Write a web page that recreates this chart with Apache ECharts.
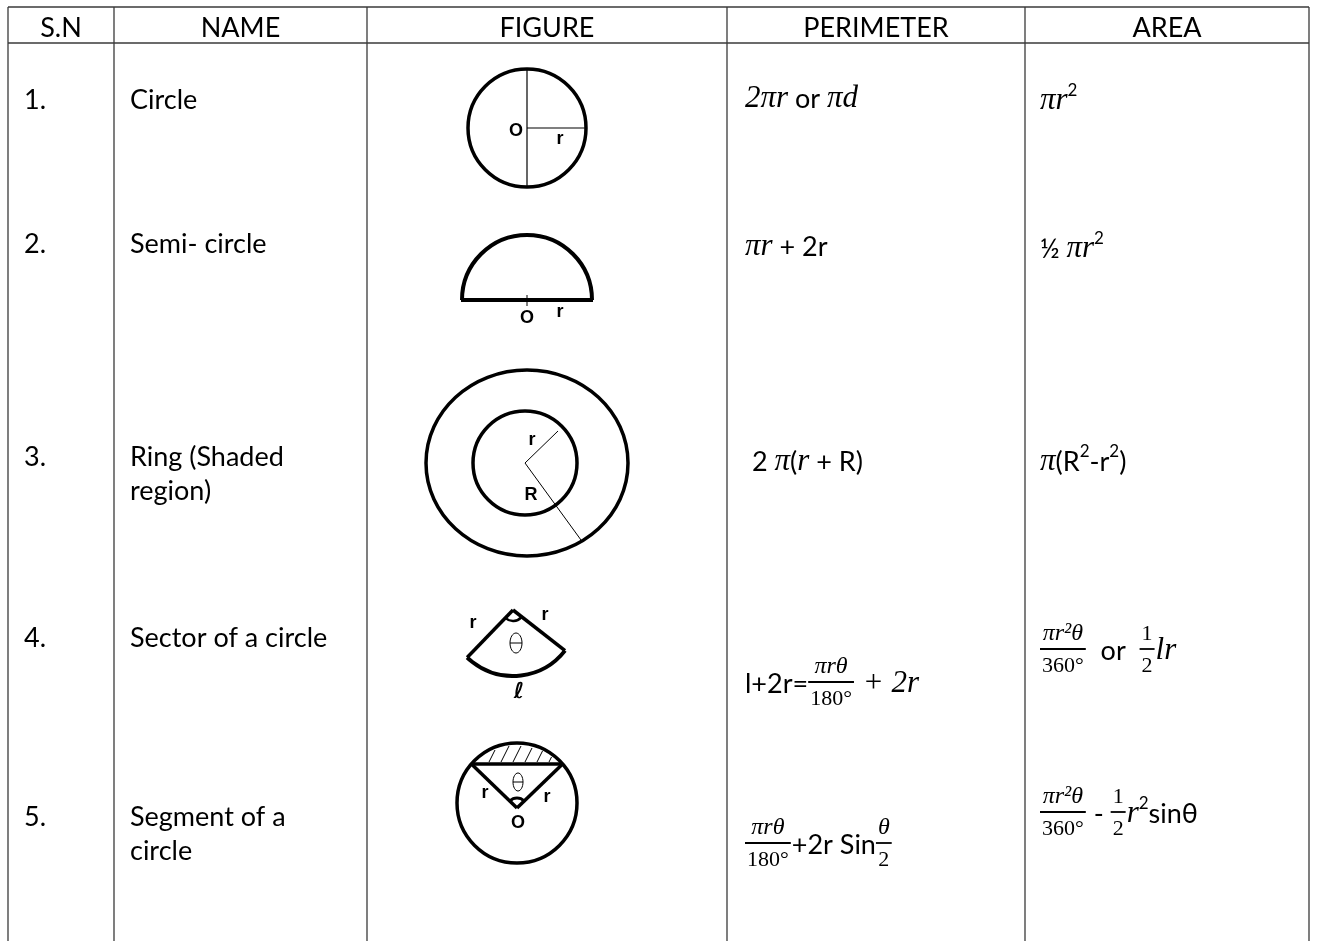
<!DOCTYPE html>
<html>
<head>
<meta charset="utf-8">
<title>Circle formulas</title>
<script src="https://cdn.jsdelivr.net/npm/echarts@6/dist/echarts.min.js"></script>
<style>
  html, body { margin: 0; padding: 0; background: #fff; }
  #main { width: 1317px; height: 941px; }
</style>
</head>
<body>
<div id="main"></div>
<script>
// table content
const headerLabels = ['S.N', 'NAME', 'FIGURE', 'PERIMETER', 'AREA'];
const serialNumbers = ['1.', '2.', '3.', '4.', '5.'];
const shapeNames = [
  ['Circle'],
  ['Semi- circle'],
  ['Ring (Shaded', 'region)'],
  ['Sector of a circle'],
  ['Segment of a', 'circle'],
];
// formula tokens: t = text, m = math italic, s = superscript, f = fraction [num, den]
const perimeterFormulas = [
  [['m', '2πr'], ['t', ' or '], ['m', 'πd']],
  [['m', 'πr'], ['t', ' + 2r']],
  [['t', ' 2 '], ['m', 'π'], ['t', '('], ['m', 'r'], ['t', ' + R)']],
  [['t', 'l+2r='], ['f', 'πrθ', '180°'], ['m', ' + 2r']],
  [['f', 'πrθ', '180°'], ['t', '+2r Sin'], ['f', 'θ', '2']],
];
const areaFormulas = [
  [['m', 'πr'], ['s', '2']],
  [['t', '½ '], ['m', 'πr'], ['s', '2']],
  [['m', 'π'], ['t', '(R'], ['s', '2'], ['t', '-r'], ['s', '2'], ['t', ')']],
  [['f', 'πr²θ', '360°'], ['t', '  or  '], ['f', '1', '2'], ['m', 'lr']],
  [['f', 'πr²θ', '360°'], ['t', ' - '], ['f', '1', '2'], ['m', 'r'], ['s', '2'], ['t', 'sinθ']],
];

// layout
const COLS = [8, 114, 367, 727, 1025, 1309];
const TOP = 7, HEAD_BOTTOM = 43, BOTTOM = 941;
const nameY = [100, 244, 457, 638, 817];
const LINE_GAP = 34;
const perimY = [99, 247, 462, 684, 845];
const areaY = [101, 249, 462, 651, 814];

const TEXT_FONT = 'Lato';
const MATH_FONT = 'Liberation Serif';
const LABEL_FONT = 'Liberation Sans';
const SIZE = 27;
const INK = '#000';
const GRID = '#3a3a3a';

const FONTS = {
  t: { family: TEXT_FONT, size: SIZE, style: 'normal', weight: 'normal' },
  m: { family: MATH_FONT, size: 31, style: 'italic', weight: 'normal' },
  s: { family: TEXT_FONT, size: 17, style: 'normal', weight: 'normal' },
  fi: { family: MATH_FONT, size: 24, style: 'italic', weight: 'normal' },
  fu: { family: MATH_FONT, size: 22, style: 'normal', weight: 'normal' },
};

const measureCtx = document.createElement('canvas').getContext('2d');
function measure(str, f) {
  measureCtx.font = `${f.style} ${f.weight} ${f.size}px "${f.family}"`;
  return measureCtx.measureText(str).width;
}

function text(str, x, y, f, align) {
  return {
    type: 'text', silent: true,
    style: {
      text: str, x: x, y: y, fill: INK,
      fontFamily: f.family, fontSize: f.size, fontStyle: f.style, fontWeight: f.weight,
      textAlign: align || 'left', textVerticalAlign: 'middle',
      align: align || 'left', verticalAlign: 'middle',
    },
  };
}
function seg(x1, y1, x2, y2, w, color) {
  return { type: 'line', silent: true, shape: { x1, y1, x2, y2 }, style: { stroke: color || INK, lineWidth: w } };
}
function circ(cx, cy, r, w) {
  return { type: 'circle', silent: true, shape: { cx, cy, r }, style: { stroke: INK, lineWidth: w, fill: 'none' } };
}
function ell(cx, cy, rx, ry, w) {
  return { type: 'ellipse', silent: true, shape: { cx, cy, rx, ry }, style: { stroke: INK, lineWidth: w, fill: 'none' } };
}
function arc(cx, cy, r, a0, a1, w) {
  return {
    type: 'arc', silent: true,
    shape: { cx, cy, r, startAngle: a0 * Math.PI / 180, endAngle: a1 * Math.PI / 180, clockwise: true },
    style: { stroke: INK, lineWidth: w, fill: 'none' },
  };
}
const LABEL = { family: LABEL_FONT, size: 18, style: 'normal', weight: 'bold' };
function label(str, x, y) { return text(str, x, y, LABEL, 'center'); }
function theta(cx, cy, rx, ry) {
  return [ell(cx, cy, rx, ry, 1), seg(cx - rx, cy, cx + rx, cy, 1)];
}

function layoutFormula(tokens, x0, yc, els) {
  let x = x0;
  tokens.forEach(([kind, a, b]) => {
    if (kind === 'f') {
      const nf = /[a-zπθ]/.test(a) ? FONTS.fi : FONTS.fu;
      const df = FONTS.fu;
      const w = Math.max(measure(a, nf), measure(b, df)) + 4;
      els.push(seg(x, yc - 2, x + w, yc - 2, 1.8));
      els.push(text(a, x + w / 2, yc - 17, nf, 'center'));
      els.push(text(b, x + w / 2, yc + 15, df, 'center'));
      x += w + 1;
    } else {
      const f = FONTS[kind];
      const y = kind === 's' ? yc - 10 : yc;
      els.push(text(a, x, y, f, 'left'));
      x += measure(a, f);
    }
  });
}

// figures
function circleFig() {
  return [circ(527, 128, 59, 3.5), seg(527, 69, 527, 187, 1.2), seg(527, 128, 586, 128, 1.2),
    label('O', 516, 131), label('r', 560, 139)];
}
function semiFig() {
  return [arc(527, 300, 65, 180, 360, 4), seg(461, 300, 593, 300, 4), seg(527, 295, 527, 306, 1),
    label('O', 527, 318), label('r', 560, 312)];
}
function ringFig() {
  return [ell(527, 463, 101, 93, 3.5), circ(525, 463, 52, 3.5),
    seg(525, 463, 558, 431, 1), seg(525, 463, 581, 540, 1),
    label('r', 532, 440), label('R', 531, 495)];
}
function sectorFig() {
  const ax = 513, ay = 610, r = 66, a0 = 38, a1 = 134;
  const p = (a) => [ax + r * Math.cos(a * Math.PI / 180), ay + r * Math.sin(a * Math.PI / 180)];
  const [rx, ry] = p(a0), [lx, ly] = p(a1);
  return [arc(ax, ay, r, a0, a1, 4), seg(ax, ay, lx, ly, 3.5), seg(ax, ay, rx, ry, 3.5),
    arc(ax, ay, 11, 42, 138, 2.5), ...theta(516, 643, 6, 10),
    label('r', 473, 623), label('r', 545, 615),
    text('ℓ', 519, 692, { family: 'DejaVu Sans', size: 22, style: 'oblique', weight: 'bold' }, 'center')];
}
function segmentFig() {
  const cx = 517, cy = 803, r = 60, chordY = 764, ax = 517, ay = 808;
  const dx = Math.sqrt(r * r - (cy - chordY) * (cy - chordY));
  const els = [circ(cx, cy, r, 3.5), seg(cx - dx, chordY, cx + dx, chordY, 3.5),
    seg(cx - dx, chordY, ax, ay, 3.5), seg(cx + dx, chordY, ax, ay, 3.5)];
  [489, 501, 513, 525, 537, 549].forEach((x0) => {
    let y = chordY - 2, x = x0;
    while (y > 740) {
      const nx = x + 0.5, ny = y - 1;
      if ((nx - cx) ** 2 + (ny - cy) ** 2 > (r - 2) ** 2) break;
      x = nx; y = ny;
    }
    els.push(seg(x0, chordY - 2, x, y, 1));
  });
  els.push(arc(ax, ay, 10, 225, 315, 3), ...theta(518, 782, 5, 9),
    label('r', 485, 793), label('r', 547, 797), label('O', 518, 823));
  return els;
}
const figureDrawers = [circleFig, semiFig, ringFig, sectorFig, segmentFig];

// build elements
const elements = [];
elements.push(seg(COLS[0], TOP, COLS[COLS.length - 1], TOP, 1.3, GRID));
elements.push(seg(COLS[0], HEAD_BOTTOM, COLS[COLS.length - 1], HEAD_BOTTOM, 1.3, GRID));
COLS.forEach((x) => elements.push(seg(x, TOP, x, BOTTOM, 1.3, GRID)));
headerLabels.forEach((h, i) => {
  elements.push(text(h, (COLS[i] + COLS[i + 1]) / 2, 28, FONTS.t, 'center'));
});
serialNumbers.forEach((sn, i) => {
  elements.push(text(sn, 24, nameY[i], FONTS.t));
  shapeNames[i].forEach((line, k) => {
    elements.push(text(line, 130, nameY[i] + k * LINE_GAP, FONTS.t));
  });
  layoutFormula(perimeterFormulas[i], 745, perimY[i], elements);
  layoutFormula(areaFormulas[i], 1040, areaY[i], elements);
  elements.push(...figureDrawers[i]());
});

const myChart = echarts.init(document.getElementById('main'));
myChart.setOption({
  backgroundColor: '#fff',
  animation: false,
  graphic: { elements: elements },
});
</script>
</body>
</html>
